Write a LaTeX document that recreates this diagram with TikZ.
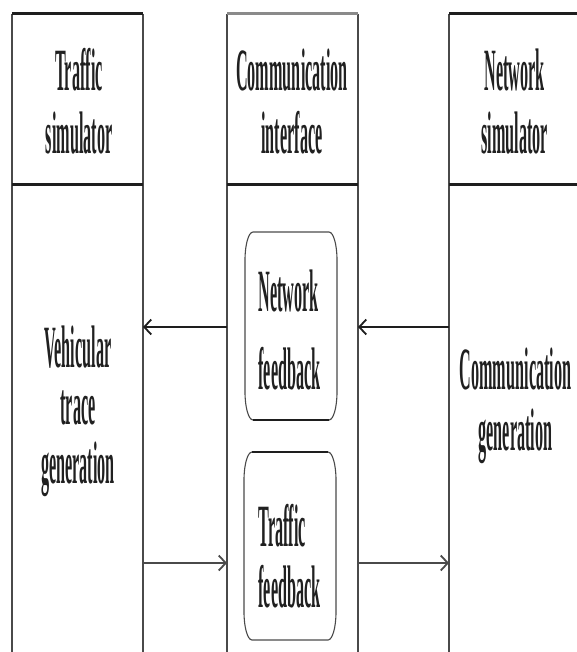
\documentclass[tikz,border=0pt]{standalone}
\usepackage{fontspec}
\setmainfont{Liberation Serif}
\usepackage{graphicx}
\usetikzlibrary{arrows.meta}
\definecolor{lanegray}{HTML}{4A4A4A}
\definecolor{lightline}{HTML}{8A8A8A}
\definecolor{darkline}{HTML}{1E1E1E}
\definecolor{txt}{HTML}{202020}
\newcommand{\sqz}[3][c]{\scalebox{0.27}[1]{\fontsize{60}{#2}\selectfont\bfseries\begin{tabular}{@{}#1@{}}#3\end{tabular}}}
\newcommand{\roundbox}[1]{%
  \draw[boxside] ([yshift=-28pt]#1.north west) .. controls ([yshift=-12.5pt]#1.north west) and ([xshift=3.6pt]#1.north west) .. ([xshift=8pt]#1.north west)
   -- ([xshift=-8pt]#1.north east) .. controls ([xshift=-3.6pt]#1.north east) and ([yshift=-12.5pt]#1.north east) .. ([yshift=-28pt]#1.north east)
   -- ([yshift=28pt]#1.south east) .. controls ([yshift=12.5pt]#1.south east) and ([xshift=-3.6pt]#1.south east) .. ([xshift=-8pt]#1.south east)
   -- ([xshift=8pt]#1.south west) .. controls ([xshift=3.6pt]#1.south west) and ([yshift=12.5pt]#1.south west) .. ([yshift=28pt]#1.south west) -- cycle;}
\tikzset{
  lane/.style={draw=none, inner sep=0pt, outer sep=0pt, minimum height=638pt},
  lbl/.style={inner sep=0pt, outer sep=0pt, text=txt},
  fbox/.style={draw=none, inner sep=0pt, outer sep=0pt, minimum width=92pt},
  vline/.style={draw=lanegray, line width=1.5pt},
  topline/.style={draw=darkline, line width=3pt},
  topgray/.style={draw=lightline, line width=3pt},
  divline/.style={draw=darkline, line width=3pt},
  boxside/.style={draw=lanegray, line width=1.1pt},
  boxedge/.style={line width=2.4pt},
  arrA/.style={draw=darkline, line width=2.8pt, -{Straight Barb[length=7pt,width=15pt,line width=1.8pt]}},
  arrB/.style={draw=lanegray, line width=2.8pt, -{Straight Barb[length=7pt,width=15pt,line width=1.8pt]}}
}
\begin{document}
\begin{tikzpicture}[x=1pt,y=-1pt]
\useasboundingbox (0,0) rectangle (576,652);
% lanes
\node[lane, minimum width=131pt] (L) at (77.5,333) {};
\node[lane, minimum width=131pt] (M) at (292.5,333) {};
\node[lane, minimum width=129pt] (R) at (513.5,333) {};
\coordinate (dv) at (0,185);
\coordinate (ya) at (0,327);
\coordinate (yb) at (0,563);
% vertical lines
\draw[vline] (L.north west) -- (L.south west);
\draw[vline] (L.north east) -- (L.south east);
\draw[vline] (M.north west) -- (M.south west);
\draw[vline] (M.north east) -- (M.south east);
\draw[vline] (R.north west) -- (R.south west);
% top lines
\draw[topline] (L.north west) -- (L.north east);
\draw[topgray] (M.north west) -- (M.north east);
\draw[topline] (R.north west) -- (R.north east);
% header dividers
\draw[divline] (L.west |- dv) -- (L.east |- dv);
\draw[divline] (M.west |- dv) -- (M.east |- dv);
\draw[divline] (R.west |- dv) -- (R.east |- dv);
% headers
\node[lbl] (Lh) at (79,109) {\sqz{63}{Traffic\\simulator}};
\node[lbl] (Mh) at (292,109) {\sqz{63}{Communication\\interface}};
\node[lbl] (Rh) at (514.5,109) {\sqz{63}{Network\\simulator}};
% lane contents
\node[lbl] (Lc) at (78,413) {\sqz{57.5}{Vehicular\\trace\\generation}};
\node[lbl] (Rc) at (515.5,408) {\sqz{61}{Communication\\generation}};
% feedback boxes
\node[fbox, minimum height=188pt] (NF) at (291,326) {};
\node[fbox, minimum height=188pt] (TF) at (290,546) {};
\roundbox{NF}
\roundbox{TF}
\draw[boxedge, draw=lightline] ([xshift=8pt]NF.north west) -- ([xshift=-8pt]NF.north east);
\draw[boxedge, draw=darkline] ([xshift=8pt]NF.south west) -- ([xshift=-8pt]NF.south east);
\draw[boxedge, draw=darkline] ([xshift=8pt]TF.north west) -- ([xshift=-8pt]TF.north east);
\draw[boxedge, draw=lightline] ([xshift=8pt]TF.south west) -- ([xshift=-8pt]TF.south east);
\node[lbl] (NFt) at (289.5,335) {\sqz[l]{78}{Network\\feedback}};
\node[lbl] (TFt) at (289.5,565) {\sqz[l]{61}{Traffic\\feedback}};
% connectors
\draw[arrA] (M.west |- ya) -- (L.east |- ya);
\draw[arrA] (R.west |- ya) -- (M.east |- ya);
\draw[arrB] (L.east |- yb) -- (M.west |- yb);
\draw[arrB] (M.east |- yb) -- (R.west |- yb);
\end{tikzpicture}
\end{document}
